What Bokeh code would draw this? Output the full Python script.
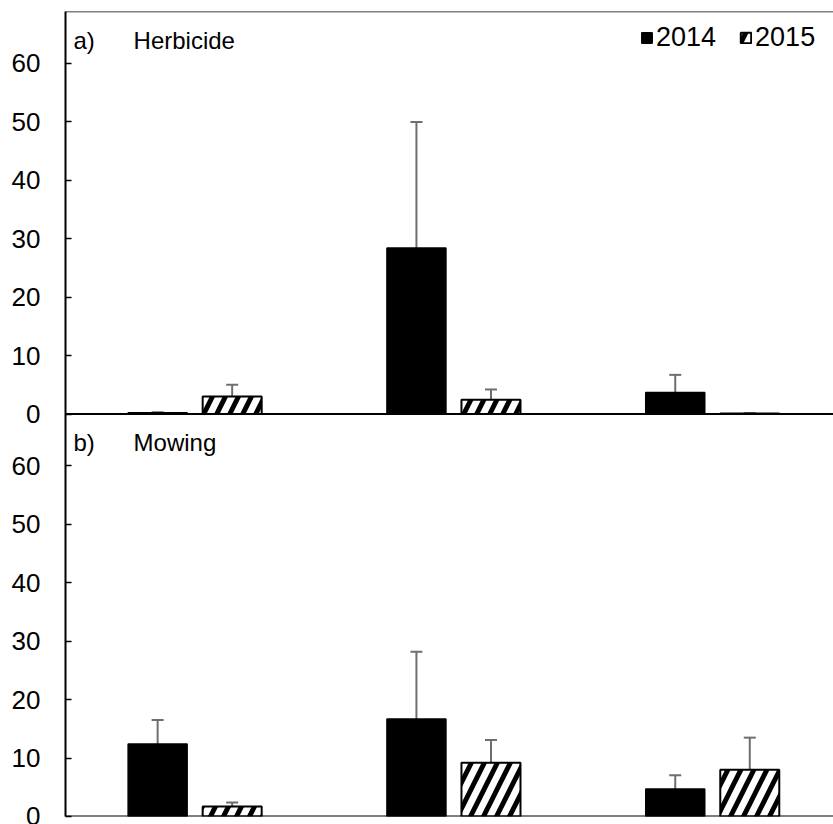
from bokeh.plotting import figure
from bokeh.models import (ColumnDataSource, Range1d, FixedTicker, CustomJSTickFormatter,
                          Whisker, TeeHead, Span, Legend, LegendItem)
from bokeh.core.properties import value
from bokeh.embed import file_html
from bokeh.resources import INLINE

# Three treatment groups per panel, two survey years
groups = [0, 1, 2]
years = ["2014", "2015"]

# a) Herbicide panel: means and error half-widths
herbicide_2014 = [0.2, 28.4, 3.7]
herbicide_2014_err = [0.1, 21.6, 3.0]
herbicide_2015 = [3.0, 2.45, 0.1]
herbicide_2015_err = [2.0, 1.75, 0.05]

# b) Mowing panel: means and error half-widths
mowing_2014 = [12.4, 16.7, 4.7]
mowing_2014_err = [4.1, 11.5, 2.35]
mowing_2015 = [1.7, 9.2, 8.0]
mowing_2015_err = [0.7, 3.9, 5.5]

y_ticks = [0, 10, 20, 30, 40, 50, 60]
panel_max = 68.9          # height of each stacked panel in data units
panel_titles = [("a)", "Herbicide"), ("b)", "Mowing")]

FONT = "Liberation Sans"
ERR = "#6e6e6e"
bar_w = 0.228
offsets = {"2014": -0.144, "2015": 0.144}


def year_source(year, top_vals, top_err, bot_vals, bot_err):
    xs, bottoms, tops, upper, lower = [], [], [], [], []
    for base, vals, errs in ((panel_max, top_vals, top_err), (0.0, bot_vals, bot_err)):
        for g, v, e in zip(groups, vals, errs):
            xs.append(g + 0.5 + offsets[year])
            bottoms.append(base)
            tops.append(base + v)
            upper.append(base + v + e)
            lower.append(base + max(v - e, 0.0))
    return ColumnDataSource(dict(x=xs, bottom=bottoms, top=tops, upper=upper, lower=lower))


src14 = year_source("2014", herbicide_2014, herbicide_2014_err, mowing_2014, mowing_2014_err)
src15 = year_source("2015", herbicide_2015, herbicide_2015_err, mowing_2015, mowing_2015_err)

p = figure(width=833, height=824, output_backend="svg", toolbar_location=None,
           x_range=Range1d(0, 2.9675), y_range=Range1d(0, 2 * panel_max),
           x_axis_location=None, min_border_left=65, min_border_right=0,
           min_border_top=11, min_border_bottom=8)
p.grid.visible = False
p.outline_line_color = None
p.background_fill_color = "white"
p.border_fill_color = "white"

r14 = p.vbar(x="x", bottom="bottom", top="top", width=bar_w, source=src14,
             fill_color="black", line_color="black", line_width=1.5)
r15 = p.vbar(x="x", bottom="bottom", top="top", width=bar_w, source=src15,
             fill_color="white", line_color="black", line_width=2,
             hatch_pattern="/", hatch_color="black", hatch_weight=5, hatch_scale=26)

for src in (src14, src15):
    p.add_layout(Whisker(source=src, base="x", upper="upper", lower="lower",
                         line_color=ERR, line_width=2,
                         upper_head=TeeHead(size=12, line_color=ERR, line_width=2),
                         lower_head=TeeHead(size=12, line_color=ERR, line_width=2)))

# panel baselines and top border
p.add_layout(Span(location=0, dimension="width", line_color="black", line_width=2))
p.add_layout(Span(location=panel_max, dimension="width", line_color="black", line_width=2))
p.add_layout(Span(location=2 * panel_max, dimension="width", line_color="black", line_width=1.5))

# y axis shared by both panels, labels restart at 0 for the upper panel
ax = p.yaxis[0]
ax.ticker = FixedTicker(ticks=y_ticks + [t + panel_max for t in y_ticks])
ax.formatter = CustomJSTickFormatter(args=dict(off=panel_max), code="""
    const v = tick >= off - 1e-6 ? tick - off : tick;
    return Math.round(v).toString();
""")
ax.axis_line_color = "black"
ax.axis_line_width = 2
ax.major_tick_in = 6
ax.major_tick_out = 0
ax.major_tick_line_width = 1.5
ax.minor_tick_line_color = None
ax.major_label_standoff = 25
ax.major_label_text_font = FONT
ax.major_label_text_font_size = "26px"
ax.major_label_text_color = "black"

# panel titles
for base, (tag, name) in zip((panel_max, 0.0), panel_titles):
    p.text(x=[0.031], y=[base + 64.0], text=[tag], text_font=value(FONT),
           text_font_size="24px", text_baseline="middle", text_color="black")
    p.text(x=[0.263], y=[base + 64.0], text=[name], text_font=value(FONT),
           text_font_size="24px", text_baseline="middle", text_color="black")

legend = Legend(items=[LegendItem(label=years[0], renderers=[r14]),
                       LegendItem(label=years[1], renderers=[r15])],
                orientation="horizontal", location=(575, 763),
                glyph_width=13, glyph_height=13, label_standoff=3, spacing=23,
                padding=0, margin=0, border_line_color=None, background_fill_alpha=0,
                label_text_font=FONT, label_text_font_size="27px",
                label_text_color="black")
p.add_layout(legend)

open("out.html", "w").write(file_html(p, INLINE))
